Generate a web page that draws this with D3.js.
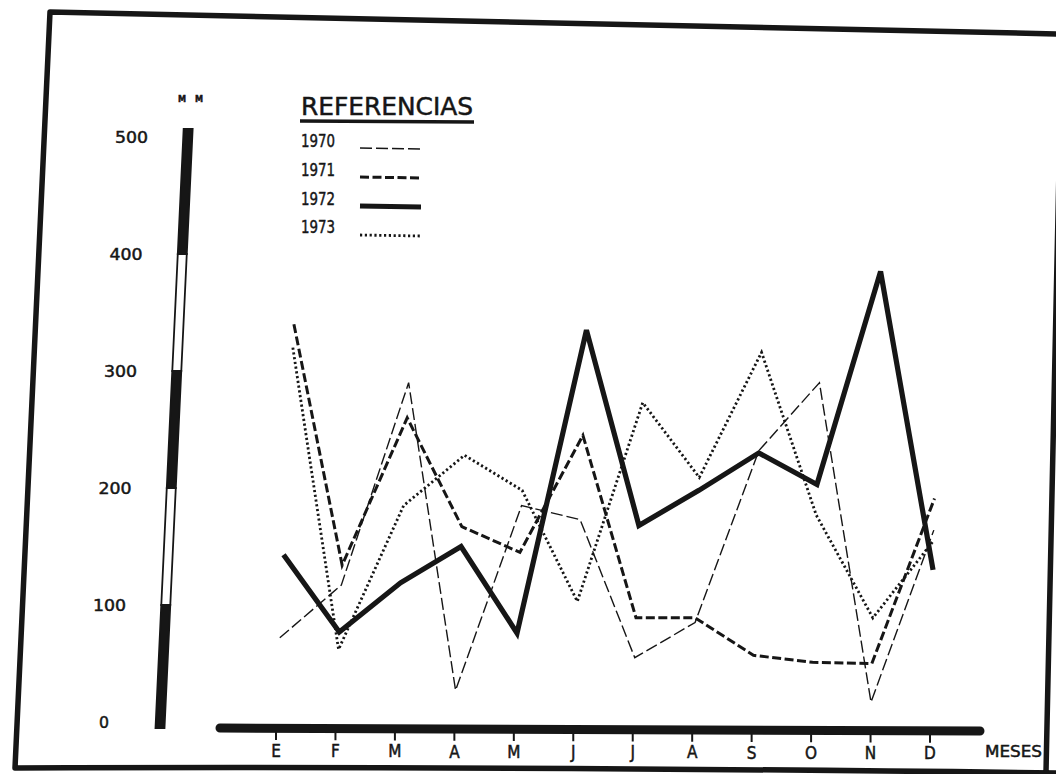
<!DOCTYPE html>
<html>
<head>
<meta charset="utf-8">
<script src="https://cdn.jsdelivr.net/npm/d3@7"></script>
<style>
  html, body { margin: 0; padding: 0; background: #fff; }
  svg { display: block; }
  text { font-family: "DejaVu Sans Condensed", "DejaVu Sans", sans-serif; fill: #161616; stroke: #161616; stroke-width: 0.45; }
</style>
</head>
<body>
<svg id="chart" width="1056" height="774"></svg>
<script>
// rainfall per month (mm)
const months = ["E", "F", "M", "A", "M", "J", "J", "A", "S", "O", "N", "D"];
const years = ["1970", "1971", "1972", "1973"];
const v1970 = [72, 117, 290, 27, 185, 173, 55, 85, 232, 290, 17, 164];
const v1971 = [340, 134, 260, 167, 145, 245, 89, 89, 57, 51, 50, 191];
const v1972 = [143, 77, 119, 150, 76, 335, 168, 198, 230, 203, 385, 130];
const v1973 = [320, 62, 185, 228, 198, 103, 273, 209, 316, 177, 89, 155];
const yTicks = [0, 100, 200, 300, 400, 500];

const seriesValues = [v1970, v1971, v1972, v1973];
const styles = [
  { width: 1.4, dash: "12,4" },
  { width: 3, dash: "9,3.5" },
  { width: 5.2, dash: null },
  { width: 2.8, dash: "2.2,2.6" }
];
const ink = "#161616";

const svg = d3.select("#chart");
svg.append("rect").attr("width", 1056).attr("height", 774).attr("fill", "#fff");

const x = d3.scalePoint().domain(d3.range(months.length)).range([276, 930]);
const y = d3.scaleLinear().domain([0, 500]).range([722, 137]);

// the scan leans a little: points higher up sit further right
function lean(px, py) {
  const k = 0.045 - 0.025 * (px - 276) / 654;
  return px + k * (722 - py);
}

// frame
svg.append("path")
  .attr("d", "M15,768 L50,12 Q500,22 1060,34 M15,768 Q500,766 1060,773 M1046,772 L1062,30")
  .attr("fill", "none").attr("stroke", ink).attr("stroke-width", 5.5)
  .attr("stroke-linejoin", "round").attr("stroke-linecap", "round");

// y axis: slanted striped bar
const barX = py => 160 + 0.047 * (728 - py);
const barTop = y(500) - 8, barBot = y(0) + 6;
const g = svg.append("g");
d3.pairs(yTicks).forEach(([a, b], i) => {
  const y0 = i === 0 ? barBot : y(a);
  const y1 = i === yTicks.length - 2 ? barTop : y(b);
  const hw = 4.5;
  const pts = [[barX(y0) - hw, y0], [barX(y0) + hw, y0], [barX(y1) + hw, y1], [barX(y1) - hw, y1]];
  g.append("path")
    .attr("d", "M" + pts.join("L") + "Z")
    .attr("fill", i % 2 === 0 ? ink : "#fff")
    .attr("stroke", ink).attr("stroke-width", 1.8);
});

g.selectAll("text.ylab").data(yTicks).join("text")
  .attr("class", "ylab")
  .attr("x", d => 104 + 0.047 * (722 - y(d)))
  .attr("y", d => y(d) + 6)
  .attr("text-anchor", "middle")
  .attr("font-size", 16)
  .attr("textLength", d => d === 0 ? 10 : 33)
  .attr("lengthAdjust", "spacingAndGlyphs")
  .text(d => d);

svg.append("text").attr("x", 192).attr("y", 102).attr("text-anchor", "middle")
  .attr("font-size", 9).attr("font-weight", "bold").attr("letter-spacing", 3).text("M M");

// x axis bar with ticks
svg.append("line").attr("x1", 220).attr("y1", 728).attr("x2", 980).attr("y2", 731)
  .attr("stroke", ink).attr("stroke-width", 9).attr("stroke-linecap", "round");
const ax = svg.append("g");
ax.selectAll("line").data(d3.range(months.length)).join("line")
  .attr("x1", d => x(d)).attr("x2", d => x(d))
  .attr("y1", d => 732 + d * 0.25).attr("y2", d => 740 + d * 0.25)
  .attr("stroke", ink).attr("stroke-width", 2);
ax.selectAll("text").data(d3.range(months.length)).join("text")
  .attr("x", d => x(d)).attr("y", d => 757 + d * 0.2)
  .attr("text-anchor", "middle").attr("font-size", 17)
  .text(d => months[d]);
svg.append("text").attr("x", 985).attr("y", 757).attr("font-size", 16)
  .attr("textLength", 57).attr("lengthAdjust", "spacingAndGlyphs").text("MESES");

// series
const line = d3.line()
  .x((d, i) => lean(x(i), y(d)))
  .y(d => y(d));
seriesValues.forEach((vals, s) => {
  svg.append("path")
    .datum(vals)
    .attr("d", line)
    .attr("fill", "none")
    .attr("stroke", ink)
    .attr("stroke-width", styles[s].width)
    .attr("stroke-dasharray", styles[s].dash)
    .attr("stroke-linejoin", "miter")
    .attr("stroke-miterlimit", 4);
});

// legend
const lg = svg.append("g");
lg.append("text").attr("x", 301).attr("y", 115).attr("font-size", 25)
  .attr("textLength", 172).attr("lengthAdjust", "spacingAndGlyphs").text("REFERENCIAS");
lg.append("line").attr("x1", 300).attr("x2", 474).attr("y1", 121).attr("y2", 122)
  .attr("stroke", ink).attr("stroke-width", 3.5);
const legY = [148, 177, 206, 235];
years.forEach((yr, i) => {
  lg.append("text").attr("x", 301).attr("y", legY[i] - 1 - (i === 3 ? 1 : 0))
    .attr("font-size", 18).attr("textLength", 34).attr("lengthAdjust", "spacingAndGlyphs")
    .text(yr);
  lg.append("line").attr("x1", 360).attr("x2", 421)
    .attr("y1", legY[i]).attr("y2", legY[i] + 1)
    .attr("stroke", ink)
    .attr("stroke-width", styles[i].width)
    .attr("stroke-dasharray", styles[i].dash);
});
</script>
</body>
</html>
